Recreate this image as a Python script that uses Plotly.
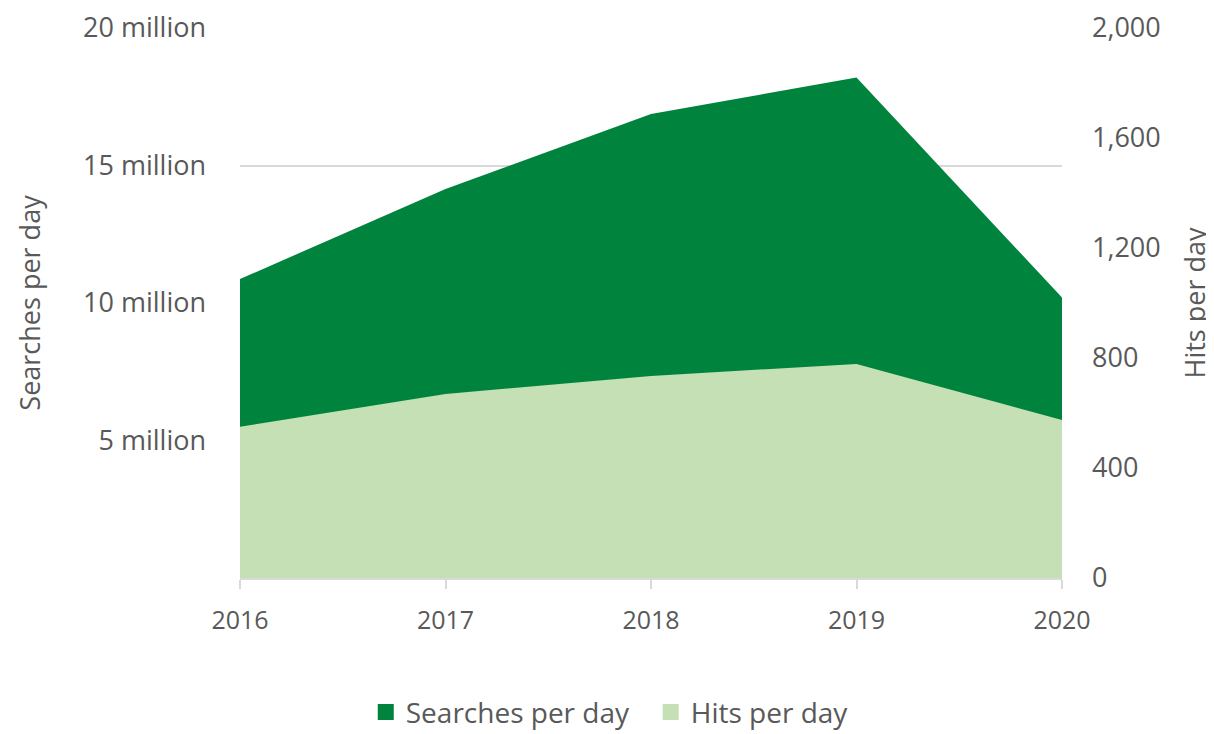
import plotly.graph_objects as go

years = ["2016", "2017", "2018", "2019", "2020"]
searches_per_day = [10.87e6, 14.15e6, 16.87e6, 18.2e6, 10.2e6]
hits_per_day = [550, 669, 735, 778, 575]

left_tickvals = [5e6, 10e6, 15e6, 20e6]
left_ticktext = ["5 million", "10 million", "15 million", "20 million"]
right_tickvals = [0, 400, 800, 1200, 1600, 2000]

DARK = "#00843D"
LIGHT = "#C5E0B4"
TEXT = "#595959"
GRID = "#D9D9D9"
FONT = "Open Sans"

fig = go.Figure()
fig.add_trace(go.Scatter(
    x=years, y=searches_per_day, name="Searches per day",
    mode="lines", fill="tozeroy", fillcolor=DARK,
    line=dict(width=0, color=DARK), yaxis="y", showlegend=False,
))
fig.add_trace(go.Scatter(
    x=years, y=hits_per_day, name="Hits per day",
    mode="lines", fill="tozeroy", fillcolor=LIGHT,
    line=dict(width=0, color=LIGHT), yaxis="y2", showlegend=False,
))
# legend entries with square swatches
for nm, col in [("Searches per day", DARK), ("Hits per day", LIGHT)]:
    fig.add_trace(go.Scatter(
        x=[None], y=[None], name=nm, mode="markers",
        marker=dict(symbol="square", size=18, color=col), showlegend=True,
    ))

fig.update_layout(
    width=1206, height=726,
    margin=dict(l=232, r=152, t=20, b=156),
    paper_bgcolor="white", plot_bgcolor="white",
    font=dict(family=FONT, color=TEXT, size=26),
    showlegend=True,
    legend=dict(orientation="h", x=0.153, xanchor="left", xref="paper",
                yref="container", y=0.03, yanchor="middle",
                font=dict(size=28, color=TEXT), traceorder="normal",
                itemwidth=30, entrywidth=240, entrywidthmode="pixels"),
    xaxis=dict(
        type="category", range=[0, 4], showgrid=False,
        showline=True, linecolor=GRID, linewidth=1.5,
        ticks="outside", tickcolor=GRID, ticklen=9, tickwidth=1.5,
        tickfont=dict(size=25, color=TEXT), ticklabelstandoff=10,
        zeroline=False,
    ),
    yaxis=dict(
        range=[0, 20e6], tickvals=left_tickvals, ticktext=left_ticktext,
        showgrid=True, gridcolor=GRID, gridwidth=1.5, zeroline=False,
        showline=False, ticks="", tickfont=dict(size=27, color=TEXT),
        ticklabelstandoff=33,
        title=dict(text="Searches per day", font=dict(size=27, color=TEXT), standoff=34),
        automargin=False,
    ),
    yaxis2=dict(
        range=[0, 2000], tickvals=right_tickvals, tickformat=",",
        overlaying="y", side="right", showgrid=False, zeroline=False,
        showline=False, ticks="", tickfont=dict(size=27, color=TEXT),
        ticklabelstandoff=29,
        title=dict(text="Hits per day", font=dict(size=27, color=TEXT), standoff=26),
        automargin=False,
    ),
)

fig.write_html("out.html")
